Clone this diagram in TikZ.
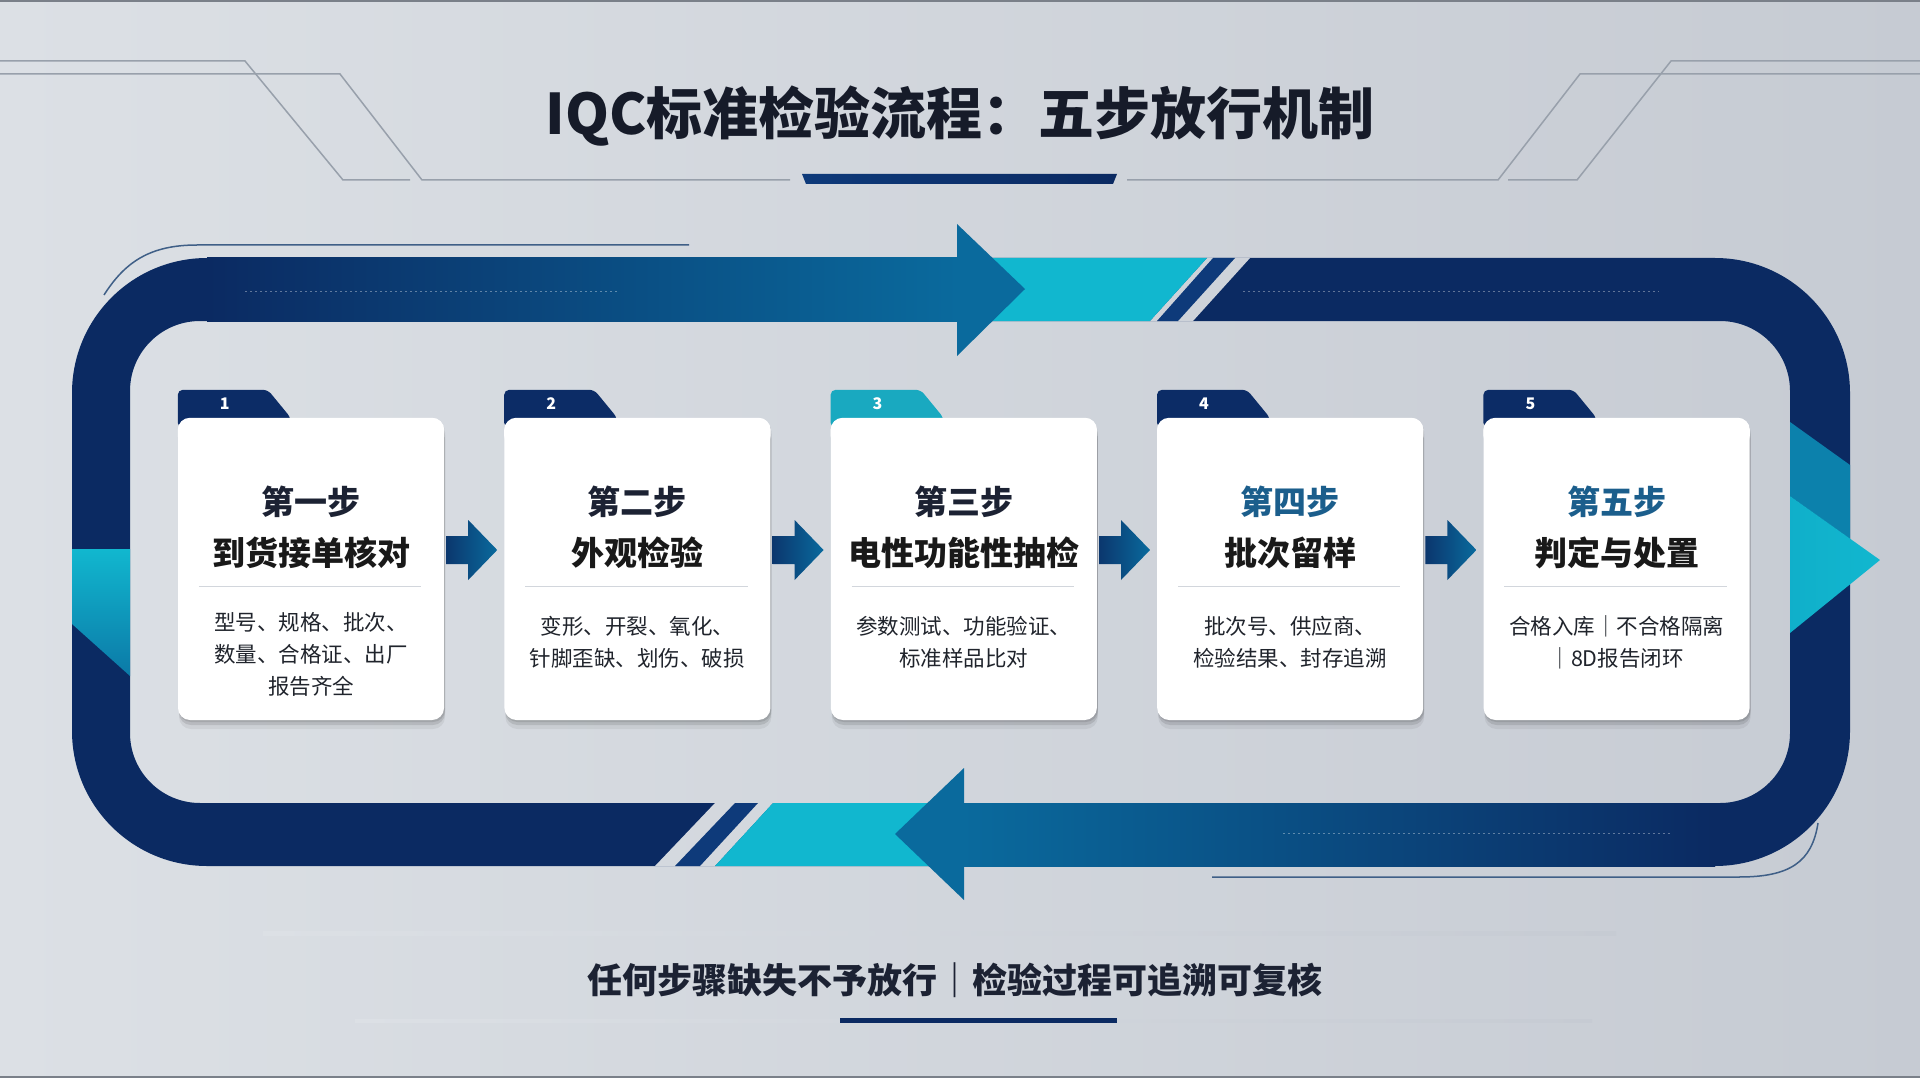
\documentclass[tikz,border=0pt]{standalone}
\usepackage{fontspec}
\setmainfont{Noto Sans CJK SC}
\usetikzlibrary{calc, shadows, positioning}

\definecolor{bgL}{HTML}{DCE0E5}
\definecolor{bgM}{HTML}{F0F2F4}
\definecolor{bgR}{HTML}{C6CBD3}
\definecolor{navy}{HTML}{0B2A62}
\definecolor{midblue}{HTML}{0A6A9D}
\definecolor{cyanband}{HTML}{11B7CF}
\definecolor{stripe}{HTML}{0E3A7A}
\definecolor{tabnavy}{HTML}{0C2C66}
\definecolor{tabteal}{HTML}{19A9C0}
\definecolor{headdark}{HTML}{1C2233}
\definecolor{headblue}{HTML}{1B5E8C}
\definecolor{descgray}{HTML}{20242C}
\definecolor{sepgray}{HTML}{D2D6DC}
\definecolor{hlinegray}{HTML}{98A0AB}
\definecolor{accentblue}{HTML}{3F5F87}

\begin{document}
\begin{tikzpicture}[x=1pt, y=-1pt,
  bgshade/.style={left color=bgL, middle color=bgM, right color=bgR},
  card/.style={fill=white, rounded corners=12pt, minimum width=266pt, minimum height=302pt,
    general shadow={shadow xshift=1pt, shadow yshift=-9pt, opacity=.06, fill=black},
    general shadow={shadow xshift=1pt, shadow yshift=-5pt, opacity=.10, fill=black},
    general shadow={shadow xshift=1pt, shadow yshift=-2pt, opacity=.10, fill=black}},
  tab/.style={fill=tabnavy, rounded corners=5pt},
  num/.style={text=white, font=\bfseries\fontsize{16}{16}\selectfont, inner sep=0pt},
  head/.style={text=headdark, font=\bfseries\fontsize{33}{33}\selectfont, inner sep=0pt},
  mtitle/.style={text=black!90, font=\bfseries\fontsize{33}{33}\selectfont, inner sep=0pt},
  desc/.style={text=descgray, font=\fontsize{21.5}{32}\selectfont, align=center, inner sep=0pt, anchor=north},
  sep/.style={draw=sepgray, line width=1.2pt},
  minarrow/.style={left color=navy!80!midblue, right color=midblue},
  hline/.style={draw=hlinegray, line width=1.5pt},
  dotline/.style={draw=white, opacity=.35, dash pattern=on 2pt off 3pt, line width=1pt},
  accent/.style={draw=accentblue, line width=1.5pt}]

\useasboundingbox (0,0) rectangle (1920,1078);
\shade[bgshade] (0,0) rectangle (1920,1078);
\draw[hlinegray!80!black, line width=2pt] (0,1) -- (1920,1) (0,1077) -- (1920,1077);

% header
\draw[hline] (0,61) -- (245,61) -- (343,180) -- (410,180);
\draw[hline] (0,74) -- (340,74) -- (422,180) -- (790,180);
\draw[hline] (1920,61) -- (1671,61) -- (1577,180) -- (1508,180);
\draw[hline] (1920,74) -- (1580,74) -- (1498,180) -- (1127,180);
\shade[left color=stripe, middle color=midblue!70!navy, right color=navy] (802,174) -- (1117,174) -- (1113,184) -- (806,184) -- cycle;
\node (title) at (960,116) {\bfseries\fontsize{56}{56}\selectfont\color{headdark!80!black}IQC标准检验流程：五步放行机制};

% loop band
\fill[navy, even odd rule, rounded corners=135pt] (72,258) rectangle (1850,866)
  [rounded corners=70pt] (130,321) rectangle (1790,803);
\shade[left color=navy, right color=midblue] (207,258) rectangle (958,321);
\shade[left color=midblue, right color=navy] (962,803) rectangle (1715,866);
\begin{scope}
  \clip (1207,258) -- (1250,258) -- (1193,321) -- (1150,321) -- cycle;
  \shade[bgshade] (0,0) rectangle (1920,1078);
\end{scope}
\begin{scope}
  \clip (715,803) -- (773,803) -- (715,866) -- (655,866) -- cycle;
  \shade[bgshade] (0,0) rectangle (1920,1078);
\end{scope}
\fill[cyanband] (958,258) -- (1207,258) -- (1150,321) -- (958,321) -- cycle;
\fill[stripe] (1213,258) -- (1235,258) -- (1178,321) -- (1157,321) -- cycle;
\fill[cyanband] (773,803) -- (962,803) -- (962,866) -- (715,866) -- cycle;
\fill[stripe] (735,803) -- (758,803) -- (700,866) -- (675,866) -- cycle;
\fill[midblue] (957,224) -- (1025,289) -- (957,356) -- cycle;
\fill[midblue] (964,768) -- (895,834) -- (964,900) -- cycle;
\shade[top color=cyanband, bottom color=midblue!80!cyanband] (72,549) -- (130,549) -- (130,676) -- (72,624) -- cycle;
\fill[midblue!70!cyanband] (1790,422) -- (1850,465) -- (1850,539) -- (1790,496) -- cycle;
\shade[left color=cyanband!90!midblue, right color=cyanband] (1790,496) -- (1880,560) -- (1790,633) -- cycle;
\draw[dotline] (245,291) -- (618,291) (1243,291) -- (1659,291) (1283,833) -- (1671,833);
\draw[accent] (104,295) .. controls (125,262) and (150,245) .. (197,245) -- (689,245);
\draw[accent] (1212,877) -- (1739,877) .. controls (1790,877) and (1812,862) .. (1818,823);

% step cards
\node[card] (s1) at (311,569) {};
\node[card, right=60pt of s1] (s2) {};
\node[card, right=60pt of s2] (s3) {};
\node[card, right=60pt of s3] (s4) {};
\node[card, right=60pt of s4] (s5) {};
\fill[tab] ($(s1.north west)+(0,10)$) -- ++(0,-38) -- ++(90,0) -- ++(23,28) -- ++(0,10) -- cycle;
\fill[tab] ($(s2.north west)+(0,10)$) -- ++(0,-38) -- ++(90,0) -- ++(23,28) -- ++(0,10) -- cycle;
\fill[tab, fill=tabteal] ($(s3.north west)+(0,10)$) -- ++(0,-38) -- ++(90,0) -- ++(23,28) -- ++(0,10) -- cycle;
\fill[tab] ($(s4.north west)+(0,10)$) -- ++(0,-38) -- ++(90,0) -- ++(23,28) -- ++(0,10) -- cycle;
\fill[tab] ($(s5.north west)+(0,10)$) -- ++(0,-38) -- ++(90,0) -- ++(23,28) -- ++(0,10) -- cycle;
% white tops over the tab feet
\foreach \s in {s1,s2,s3,s4,s5}
  \fill[white, rounded corners=12pt] (\s.north west) rectangle ($(\s.north east)+(0,30)$);

\node[num] (n1) at ($(s1.north west)+(47,-14)$) {1};
\node[num] (n2) at ($(s2.north west)+(47,-14)$) {2};
\node[num] (n3) at ($(s3.north west)+(47,-14)$) {3};
\node[num] (n4) at ($(s4.north west)+(47,-14)$) {4};
\node[num] (n5) at ($(s5.north west)+(47,-14)$) {5};

\node[head] (h1) at ($(s1.north)+(0,84)$) {第一步};
\node[head] (h2) at ($(s2.north)+(0,84)$) {第二步};
\node[head] (h3) at ($(s3.north)+(0,84)$) {第三步};
\node[head, text=headblue] (h4) at ($(s4.north)+(0,84)$) {第四步};
\node[head, text=headblue] (h5) at ($(s5.north)+(0,84)$) {第五步};

\node[mtitle] (m1) at ($(s1.north)+(0,135)$) {到货接单核对};
\node[mtitle] (m2) at ($(s2.north)+(0,135)$) {外观检验};
\node[mtitle] (m3) at ($(s3.north)+(0,135)$) {电性功能性抽检};
\node[mtitle] (m4) at ($(s4.north)+(0,135)$) {批次留样};
\node[mtitle] (m5) at ($(s5.north)+(0,135)$) {判定与处置};

\draw[sep] ($(s1.north west)+(21,169)$) -- ($(s1.north east)+(-23,169)$);
\draw[sep] ($(s2.north west)+(21,169)$) -- ($(s2.north east)+(-23,169)$);
\draw[sep] ($(s3.north west)+(21,169)$) -- ($(s3.north east)+(-23,169)$);
\draw[sep] ($(s4.north west)+(21,169)$) -- ($(s4.north east)+(-23,169)$);
\draw[sep] ($(s5.north west)+(21,169)$) -- ($(s5.north east)+(-23,169)$);

\node[desc] (d1) at ($(s1.north)+(0,194)$) {型号、规格、批次、\\数量、合格证、出厂\\报告齐全};
\node[desc] (d2) at ($(s2.north)+(0,198)$) {变形、开裂、氧化、\\针脚歪缺、划伤、破损};
\node[desc] (d3) at ($(s3.north)+(0,198)$) {参数测试、功能验证、\\标准样品比对};
\node[desc] (d4) at ($(s4.north)+(0,198)$) {批次号、供应商、\\检验结果、封存追溯};
\node[desc] (d5) at ($(s5.north)+(0,198)$) {合格入库｜不合格隔离\\｜8D报告闭环};

% arrows between cards
\shade[minarrow] ($(s1.east)+(2,-33)$) -- ++(22,0) -- ++(0,-16) -- ++(29,30) -- ++(-29,30) -- ++(0,-16) -- ++(-22,0) -- cycle;
\shade[minarrow] ($(s2.east)+(2,-33)$) -- ++(22,0) -- ++(0,-16) -- ++(29,30) -- ++(-29,30) -- ++(0,-16) -- ++(-22,0) -- cycle;
\shade[minarrow] ($(s3.east)+(2,-33)$) -- ++(22,0) -- ++(0,-16) -- ++(29,30) -- ++(-29,30) -- ++(0,-16) -- ++(-22,0) -- cycle;
\shade[minarrow] ($(s4.east)+(2,-33)$) -- ++(22,0) -- ++(0,-16) -- ++(29,30) -- ++(-29,30) -- ++(0,-16) -- ++(-22,0) -- cycle;

% footer
\begin{scope}
  \clip (263,933) rectangle (1616,1021);
  \shade[left color=bgL, middle color=white!85!bgM, right color=bgR] (0,933) rectangle (1920,1021);
\end{scope}
\shade[left color=bgL, middle color=white, right color=bgR] (263,931) rectangle (1616,935);
\shade[left color=bgL, middle color=hlinegray!70!white, right color=bgR] (355,1019) rectangle (1592,1022);
\fill[navy] (840,1018) rectangle (1117,1023);
\node (note) at (955,980) {\bfseries\fontsize{35}{35}\selectfont\color{headdark}任何步骤缺失不予放行｜检验过程可追溯可复核};
\end{tikzpicture}
\end{document}
